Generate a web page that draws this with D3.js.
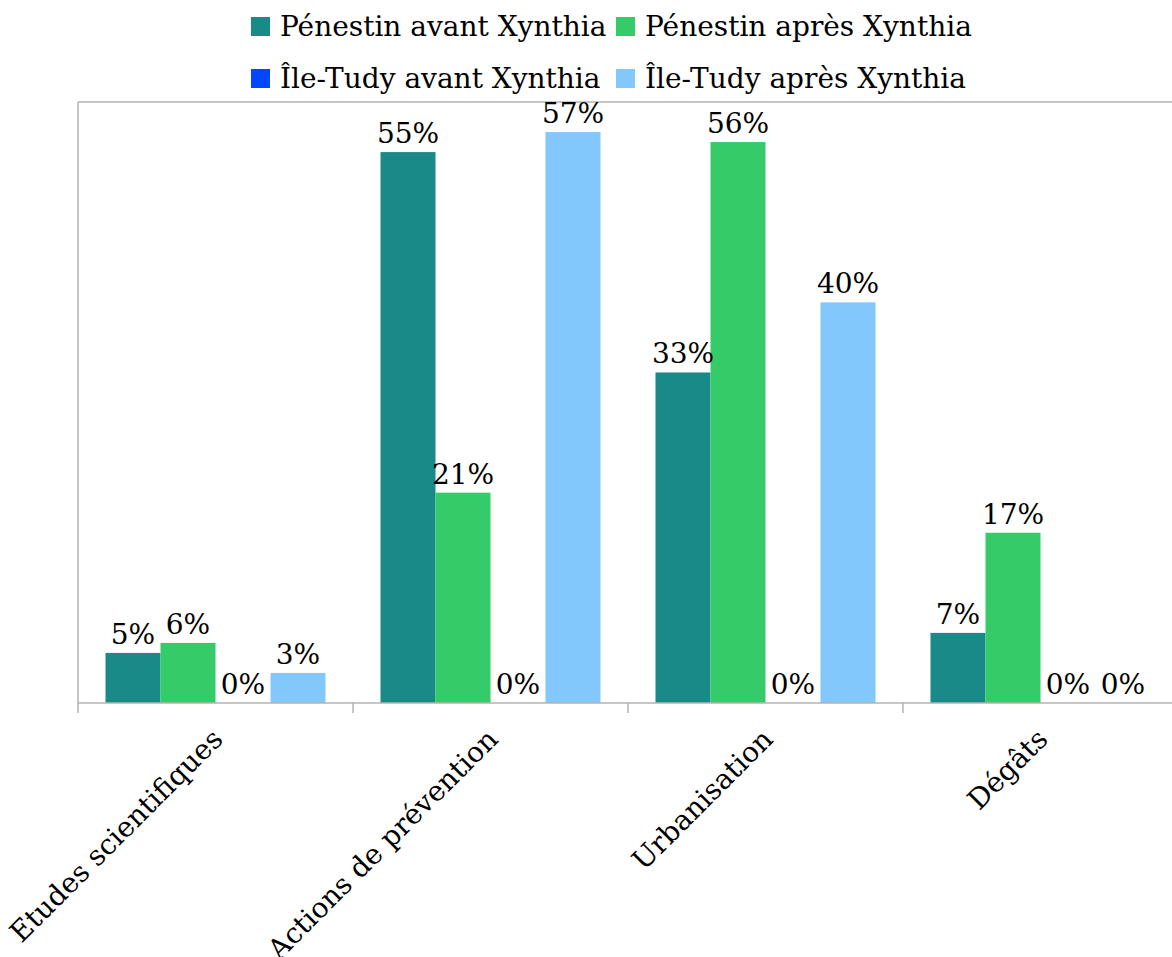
<!DOCTYPE html>
<html>
<head>
<meta charset="utf-8">
<script src="https://cdn.jsdelivr.net/npm/d3@7"></script>
<style>
  body { margin: 0; background: #fff; }
  svg { display: block; }
  text { font-family: "DejaVu Serif", Georgia, serif; fill: #000; }
</style>
</head>
<body>
<svg id="chart"></svg>
<script>
var categories = ["Etudes scientifiques", "Actions de prévention", "Urbanisation", "Dégâts"];
var seriesNames = ["Pénestin avant Xynthia", "Pénestin après Xynthia", "Île-Tudy avant Xynthia", "Île-Tudy après Xynthia"];
var penestinAvant = [5, 55, 33, 7];
var penestinApres = [6, 21, 56, 17];
var ileTudyAvant = [0, 0, 0, 0];
var ileTudyApres = [3, 57, 40, 0];
var colors = ["#198a88", "#36cb69", "#0047ff", "#83c8fd"];

var W = 1172, H = 957;
var fontSize = 28;
var plot = {left: 78, right: 1178, top: 102, bottom: 703};

var svg = d3.select("#chart").attr("width", W).attr("height", H);

var allValues = [penestinAvant, penestinApres, ileTudyAvant, ileTudyApres];
var data = [];
categories.forEach(function(c, i) {
    seriesNames.forEach(function(s, j) {
        data.push({cat: c, series: s, value: allValues[j][i], color: colors[j]});
    });
});

var x0 = d3.scaleBand().domain(categories).range([plot.left, plot.right]).padding(0);
var x1 = d3.scaleBand().domain(seriesNames).range([27.5, x0.bandwidth() - 27.5]).padding(0);
var y = d3.scaleLinear().domain([0, 60]).range([plot.bottom, plot.top]);

var grey = "#b3b3b3";

// frame (left + top)
svg.append("line")
    .attr("x1", plot.left).attr("x2", plot.left)
    .attr("y1", plot.top).attr("y2", plot.bottom)
    .style("stroke", grey).style("stroke-width", 1.5);
svg.append("line")
    .attr("x1", plot.left).attr("x2", plot.right)
    .attr("y1", plot.top).attr("y2", plot.top)
    .style("stroke", grey).style("stroke-width", 1.5);

// bars
svg.selectAll("rect.bar")
    .data(data)
    .enter()
    .append("rect")
    .attr("class", "bar")
    .attr("x", function(d) { return x0(d.cat) + x1(d.series); })
    .attr("y", function(d) { return y(d.value); })
    .attr("width", x1.bandwidth())
    .attr("height", function(d) { return y(0) - y(d.value); })
    .style("fill", function(d) { return d.color; });

// value labels
svg.selectAll("text.val")
    .data(data)
    .enter()
    .append("text")
    .attr("class", "val")
    .attr("x", function(d) { return x0(d.cat) + x1(d.series) + x1.bandwidth() / 2; })
    .attr("y", function(d) { return y(d.value) - 9; })
    .attr("text-anchor", "middle")
    .attr("font-size", fontSize + "px")
    .text(function(d) { return d.value + "%"; });

// x axis
svg.append("line")
    .attr("x1", plot.left).attr("x2", plot.right)
    .attr("y1", plot.bottom).attr("y2", plot.bottom)
    .style("stroke", grey).style("stroke-width", 1.5);

var bounds = categories.map(function(c) { return x0(c); }).concat([plot.right]);
svg.selectAll("line.tick")
    .data(bounds)
    .enter()
    .append("line")
    .attr("class", "tick")
    .attr("x1", function(d) { return d; }).attr("x2", function(d) { return d; })
    .attr("y1", plot.bottom).attr("y2", plot.bottom + 10)
    .style("stroke", grey).style("stroke-width", 1.5);

var xAxis = svg.append("g")
    .attr("transform", "translate(0," + plot.bottom + ")")
    .call(d3.axisBottom(x0).tickSize(0));
xAxis.select(".domain").remove();
xAxis.selectAll("text")
    .attr("font-size", fontSize + "px")
    .attr("font-family", "DejaVu Serif")
    .attr("text-anchor", "end")
    .attr("y", 0).attr("dy", "0.35em")
    .attr("transform", "translate(2,31) rotate(-45)");

// legend
var legendPos = [[251, 36], [616, 36], [251, 88], [616, 88]];
var legend = svg.selectAll("g.legend")
    .data(seriesNames)
    .enter()
    .append("g")
    .attr("class", "legend")
    .attr("transform", function(d, i) { return "translate(" + legendPos[i][0] + "," + legendPos[i][1] + ")"; });
legend.append("rect")
    .attr("x", 0).attr("y", -19)
    .attr("width", 19).attr("height", 19)
    .style("fill", function(d, i) { return colors[i]; });
legend.append("text")
    .attr("x", 29).attr("y", 0)
    .attr("font-size", fontSize + "px")
    .text(function(d) { return d; });
</script>
</body>
</html>
